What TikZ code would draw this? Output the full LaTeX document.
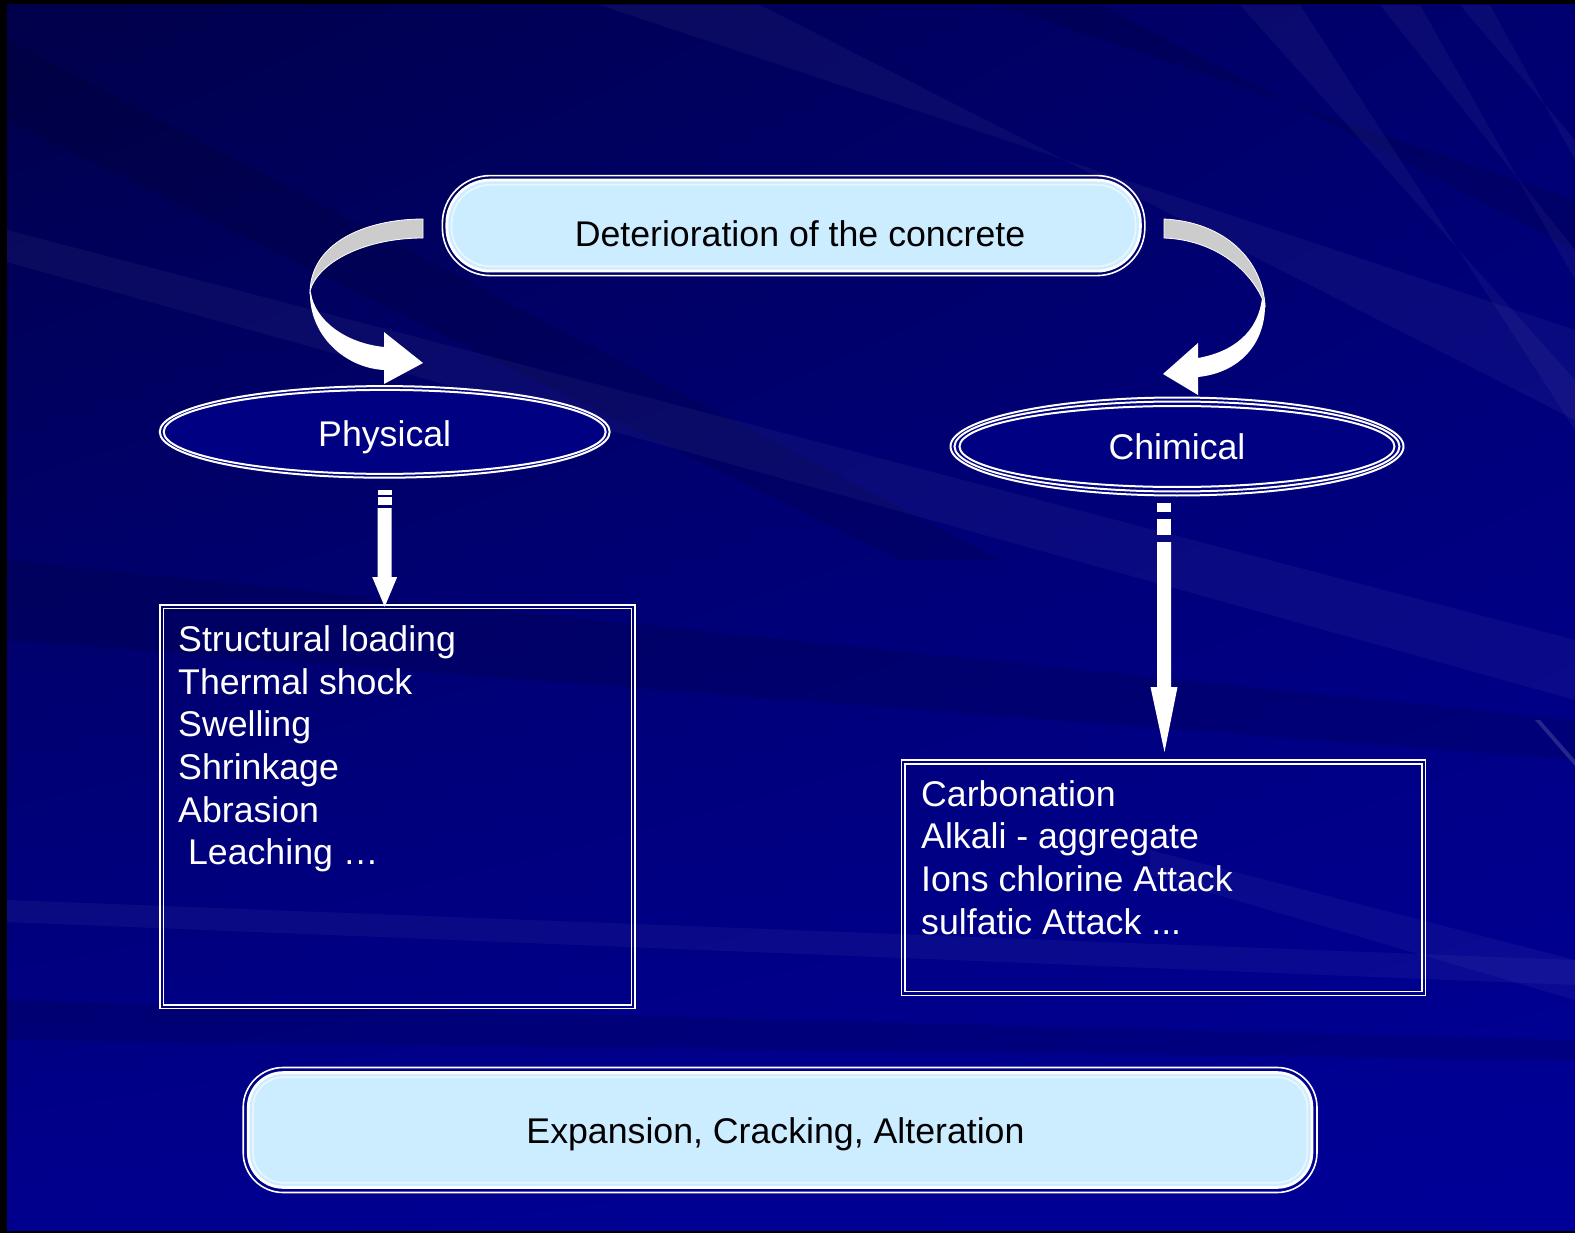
\documentclass[tikz,border=0pt]{standalone}
\usepackage{fontspec}
\setmainfont{Liberation Sans}
\usetikzlibrary{shapes.geometric,calc,shadings}
\definecolor{bgTL}{HTML}{00004A}
\definecolor{bgTR}{HTML}{000070}
\definecolor{bgBL}{HTML}{00008E}
\definecolor{bgBR}{HTML}{000098}
\definecolor{pill}{HTML}{CCECFF}
\definecolor{ellfill}{HTML}{000082}
\definecolor{ribbon}{HTML}{CCCCCC}
\begin{document}
\begin{tikzpicture}[x=1pt,y=-1pt,
  txt/.style={font=\fontsize{35.7}{42.7}\selectfont, inner sep=0pt, outer sep=0pt},
  wtxt/.style={txt, text=white},
  pillouter/.style={draw=white, line width=1.6pt, rectangle, inner sep=0pt, outer sep=0pt},
  pillfill/.style={fill=pill, draw=white, line width=2.8pt},
  pillfaint/.style={draw=pill!45!white, line width=1.8pt},
  ellnode/.style={ellipse, draw=white, line width=2pt, fill=ellfill, inner sep=0pt, outer sep=0pt,
                  text=white, font=\fontsize{35.7}{42.7}\selectfont, text height=26pt, text depth=0pt},
  ellline/.style={draw=white, line width=2pt},
  boxnode/.style={draw=white, line width=1.6pt, inner sep=0pt, outer sep=0pt},
  boxline/.style={draw=white, line width=1.6pt},
  streak/.style={fill=white, opacity=0.04},
  darkstreak/.style={fill=black, opacity=0.11}]
\useasboundingbox (0,0) rectangle (1575,1233);
% background
\fill[black] (0,0) rectangle (1575,1233);
\shade[upper left=bgTL, upper right=bgTR, lower left=bgBL, lower right=bgBR] (7,5) rectangle (1575,1230);
\begin{scope}
  \clip (7,5) rectangle (1575,1230);
  \fill[darkstreak] (7,40) -- (7,120) -- (900,560) -- (1000,560) -- cycle;
  \fill[streak] (7,230) -- (7,262) -- (1575,700) -- (1575,640) -- cycle;
  \fill[streak] (600,5) -- (760,5) -- (1575,420) -- (1575,330) -- cycle;
  \fill[darkstreak] (1000,5) -- (1100,5) -- (1575,250) -- (1575,200) -- cycle;
  \fill[streak] (1240,5) -- (1300,5) -- (1575,430) -- (1575,380) -- cycle;
  \fill[streak] (1380,5) -- (1420,5) -- (1575,280) -- (1575,250) -- cycle;
  \fill[streak] (1460,5) -- (1490,5) -- (1575,160) -- (1575,140) -- cycle;
  \fill[darkstreak] (7,560) -- (7,640) -- (1575,760) -- (1575,720) -- cycle;
  \fill[streak] (7,900) -- (7,922) -- (1575,985) -- (1575,960) -- cycle;
  \fill[streak] (1150,850) -- (1150,875) -- (1575,1000) -- (1575,960) -- cycle;
  \fill[white, opacity=0.15] (1535,720) -- (1540,720) -- (1575,760) -- (1575,766) -- cycle;
  \fill[darkstreak] (7,1000) -- (7,1040) -- (1575,1060) -- (1575,1040) -- cycle;
\end{scope}

% top pill
\node[pillouter, rounded corners=48pt, minimum width=702.5pt, minimum height=100pt] (top) at (793.6,225.6) {};
\path[pillfill, rounded corners=43.5pt] ($(top.north west)+(4.5,4.5)$) rectangle ($(top.south east)+(-4.5,-4.5)$);
\path[pillfaint, rounded corners=39pt] ($(top.north west)+(9.2,9.2)$) rectangle ($(top.south east)+(-9.2,-9.2)$);
\node[txt, anchor=base] (toptxt) at (800,246.5) {Deterioration of the concrete};

% bottom pill
\node[pillouter, rounded corners=40pt, minimum width=1073.8pt, minimum height=125pt] (bot) at (780.1,1130) {};
\path[pillfill, rounded corners=35pt] ($(bot.north west)+(5.1,5.1)$) rectangle ($(bot.south east)+(-5.1,-5.1)$);
\path[pillfaint, rounded corners=30pt] ($(bot.north west)+(9.8,9.8)$) rectangle ($(bot.south east)+(-9.8,-9.8)$);
\node[txt, anchor=base] (bottxt) at (775.5,1143.5) {Expansion, Cracking, Alteration};

% ellipses
\node[ellnode, text height=30pt, minimum width=450pt, minimum height=91.6pt] (phys) at (384.7,431.9) {Physical};
\draw[ellline] (phys.center) ellipse [x radius=221, y radius=42];
\node[ellnode, minimum width=453pt, minimum height=98pt] (chem) at (1177,446.5) {Chimical};
\draw[ellline] (chem.center) ellipse [x radius=222.5, y radius=45];
\draw[ellline] (chem.center) ellipse [x radius=217.5, y radius=40.5];

% boxes
\node[boxnode, minimum width=475.3pt, minimum height=403.7pt] (pbox) at (397.35,806.65) {};
\draw[boxline] ($(pbox.north west)+(3.6,3.5)$) rectangle ($(pbox.south east)+(-3.6,-3.5)$);
\node[wtxt, align=left, anchor=north west] (plist) at (178.2,625.6)
  {Structural loading\\Thermal shock\\Swelling\\Shrinkage\\Abrasion\\\hspace*{9.9pt}Leaching …};
\node[boxnode, minimum width=523.9pt, minimum height=235.5pt] (cbox) at (1163.55,877.75) {};
\draw[boxline] ($(cbox.north west)+(3.5,4)$) rectangle ($(cbox.south east)+(-3.5,-4)$);
\node[wtxt, align=left, anchor=north west] (clist) at (921.2,780.3)
  {Carbonation\\Alkali - aggregate\\Ions chlorine Attack\\sulfatic Attack ...};

% striped arrow: Physical -> box
\coordinate (pa) at ($(phys.south)+(0,12.3)$);
\coordinate (pb) at ($(pa |- pbox.north)+(0,2)$);
\fill[white] ([shift={(-7,0)}]pa) rectangle ([shift={(7,5)}]pa);
\fill[white] ([shift={(-7,7)}]pa) rectangle ([shift={(7,15)}]pa);
\fill[white] ([shift={(-7,18)}]pa) -- ([shift={(7,18)}]pa) -- ([shift={(7,87)}]pa)
  -- ([shift={(12.5,87)}]pa) -- (pb) -- ([shift={(-12.5,87)}]pa) -- ([shift={(-7,87)}]pa) -- cycle;

% striped arrow: Chimical -> box
\coordinate (ca) at (1164,503);
\coordinate (cb) at (1164.5,752);
\fill[white] ([shift={(-7,0)}]ca) rectangle ([shift={(7,9)}]ca);
\fill[white] ([shift={(-7,16)}]ca) rectangle ([shift={(7,32)}]ca);
\fill[white] ([shift={(-7,39)}]ca) -- ([shift={(7,39)}]ca) -- ([shift={(7,184)}]ca)
  -- ([shift={(13.5,184)}]ca) -- (cb) -- ([shift={(-13.5,184)}]ca) -- ([shift={(-7,184)}]ca) -- cycle;

% curved arrow left: top -> Physical
\filldraw[fill=ribbon, draw=white, line width=0.8pt]
  (423,219) .. controls (370,219) and (312,240) .. (310,291)
  .. controls (318,262) and (365,238) .. (423,238) -- cycle;
\fill[white]
  (310,290) .. controls (308,335) and (345,368) .. (384,370)
  -- (384,384) -- (423,363) -- (384,332) -- (384,347)
  .. controls (345,343) and (315,320) .. (311,293) -- cycle;

% curved arrow right: top -> Chimical
\filldraw[fill=ribbon, draw=white, line width=0.8pt]
  (1164,219) .. controls (1225,222) and (1262,260) .. (1265,305)
  .. controls (1252,270) and (1215,240) .. (1164,238) -- cycle;
\fill[white]
  (1265,303) .. controls (1266,345) and (1238,373) .. (1198,377)
  -- (1198,395) -- (1163,374) -- (1198,343) -- (1198,358)
  .. controls (1232,352) and (1258,333) .. (1262,298) -- cycle;
\end{tikzpicture}
\end{document}
